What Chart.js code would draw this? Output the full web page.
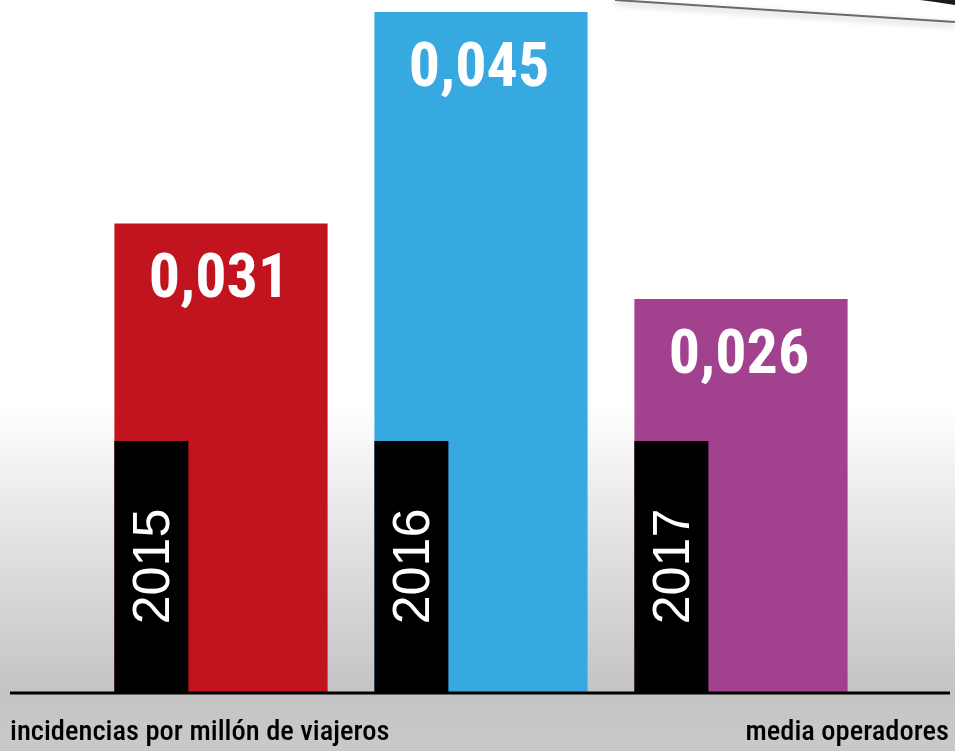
<!DOCTYPE html>
<html>
<head>
<meta charset="utf-8">
<script src="https://cdn.jsdelivr.net/npm/chart.js@4"></script>
<style>
  html, body { margin: 0; padding: 0; background: #fff; }
  #wrap { width: 955px; height: 751px; position: relative; }
</style>
</head>
<body>
<div id="wrap"><canvas id="chart"></canvas></div>
<script>
const years = ["2015", "2016", "2017"];
const values = [0.031, 0.045, 0.026];
const valueLabels = ["0,031", "0,045", "0,026"];
const barColors = ["#c1141f", "#36a9e1", "#a2428f"];
const leftNote = "incidencias por millón de viajeros";
const rightNote = "media operadores";

const narrow = '"Liberation Sans Narrow", "Roboto Condensed", "DejaVu Sans Condensed", sans-serif';

// background: white top, grey photo-like band at the bottom
const backdrop = {
  id: "backdrop",
  beforeDraw(chart) {
    const ctx = chart.ctx;
    const w = chart.width, h = chart.height;
    ctx.save();
    const g = ctx.createLinearGradient(0, 0, 0, h);
    g.addColorStop(0, "#ffffff");
    g.addColorStop(0.54, "#ffffff");
    g.addColorStop(0.72, "#e2e2e2");
    g.addColorStop(0.92, "#c4c4c4");
    g.addColorStop(1, "#c9c9c9");
    ctx.fillStyle = g;
    ctx.fillRect(0, 0, w, h);
    // edge of the panel at top right
    ctx.shadowColor = "rgba(0,0,0,0.3)";
    ctx.shadowBlur = 6;
    ctx.shadowOffsetY = 3;
    ctx.strokeStyle = "#6a6a6a";
    ctx.lineWidth = 2;
    ctx.beginPath();
    ctx.moveTo(615, 0);
    ctx.quadraticCurveTo(800, 12, 955, 22);
    ctx.stroke();
    ctx.shadowColor = "transparent";
    ctx.fillStyle = "#1a1a1a";
    ctx.beginPath();
    ctx.moveTo(920, 0);
    ctx.lineTo(955, 0);
    ctx.lineTo(955, 5);
    ctx.quadraticCurveTo(937, 2, 920, 0);
    ctx.fill();
    ctx.restore();
  }
};

// black year tabs, value labels, baseline and footnotes
const decorations = {
  id: "decorations",
  afterDatasetsDraw(chart) {
    const ctx = chart.ctx;
    const meta = chart.getDatasetMeta(0);
    const base = chart.scales.y.getPixelForValue(0);
    ctx.save();
    meta.data.forEach((bar, i) => {
      const left = bar.x - bar.width / 2;
      const tabW = bar.width * 0.347;
      const tabH = 251;
      ctx.fillStyle = "#000";
      ctx.fillRect(left, base - tabH, tabW, tabH);

      ctx.save();
      ctx.translate(left + tabW / 2 + 1, base - tabH / 2);
      ctx.rotate(-Math.PI / 2);
      ctx.fillStyle = "#fff";
      ctx.font = '52px "Liberation Sans", Arial, sans-serif';
      ctx.textAlign = "center";
      ctx.textBaseline = "middle";
      ctx.fillText(years[i], 0, 2);
      ctx.restore();

      ctx.fillStyle = "#fff";
      ctx.font = "bold 62px " + narrow;
      ctx.textAlign = "center";
      ctx.textBaseline = "middle";
      ctx.fillText(valueLabels[i], bar.x - 2, bar.y + 58);
    });

    ctx.strokeStyle = "#000";
    ctx.lineWidth = 3;
    ctx.beginPath();
    ctx.moveTo(10, base + 1);
    ctx.lineTo(950, base + 1);
    ctx.stroke();

    ctx.fillStyle = "#000";
    ctx.font = "500 28.5px " + narrow;
    ctx.textBaseline = "alphabetic";
    ctx.textAlign = "left";
    ctx.fillText(leftNote, 10, 740);
    ctx.textAlign = "right";
    ctx.fillText(rightNote, 949, 740);
    ctx.restore();
  }
};

new Chart(document.getElementById("chart"), {
  type: "bar",
  data: {
    labels: years,
    datasets: [
      {
        label: "incidencias por millón de viajeros",
        data: values,
        backgroundColor: barColors,
        borderWidth: 0,
        barPercentage: 0.82,
        categoryPercentage: 1,
      },
    ],
  },
  options: {
    responsive: true,
    maintainAspectRatio: false,
    animation: false,
    layout: {
      padding: { left: 91, right: 84, top: 12, bottom: 59 },
    },
    scales: {
      x: { display: false },
      y: { display: false, min: 0, max: 0.045 },
    },
    plugins: {
      legend: { display: false },
      tooltip: { enabled: false },
    },
  },
  plugins: [backdrop, decorations],
});
</script>
</body>
</html>
